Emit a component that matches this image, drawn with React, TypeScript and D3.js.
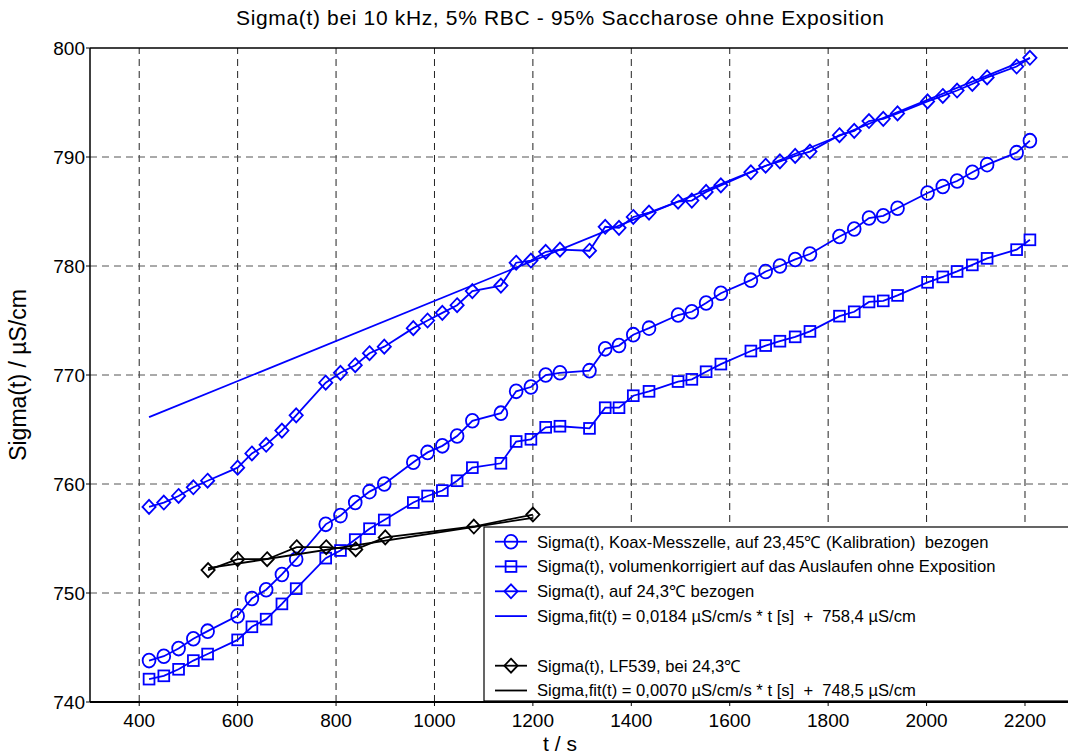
import React, { useRef, useEffect } from 'react'
import * as d3 from 'd3'

// Messzeitpunkte (s), gleich fuer alle drei blauen Reihen
const times = [420, 450, 480, 510, 539, 600, 629, 658, 690, 719, 779, 809, 839, 868, 898, 957, 986, 1016, 1046, 1077,
  1135, 1166, 1196, 1226, 1255, 1315, 1347, 1375, 1404, 1436, 1495, 1523, 1552, 1582, 1643, 1673, 1702, 1733, 1763,
  1823, 1853, 1883, 1912, 1941, 2002, 2033, 2062, 2093, 2123, 2183, 2210]

const koax = [743.8, 744.2, 744.9, 745.8, 746.5, 747.9, 749.5, 750.3, 751.7, 753.1, 756.3, 757.1, 758.3, 759.3, 760.0,
  762.0, 762.9, 763.5, 764.4, 765.8, 766.5, 768.5, 768.9, 770.0, 770.2, 770.4, 772.4, 772.7, 773.7, 774.3, 775.5,
  775.8, 776.6, 777.5, 778.7, 779.5, 780.0, 780.6, 781.1, 782.7, 783.4, 784.4, 784.6, 785.3, 786.7, 787.3, 787.8,
  788.6, 789.3, 790.4, 791.5]

const volumen = [742.1, 742.4, 743.0, 743.8, 744.4, 745.7, 746.9, 747.6, 749.0, 750.4, 753.2, 753.9, 754.9, 755.9,
  756.7, 758.3, 758.9, 759.4, 760.3, 761.5, 761.9, 763.9, 764.1, 765.2, 765.3, 765.1, 767.0, 767.0, 768.1, 768.5,
  769.4, 769.6, 770.3, 771.0, 772.2, 772.7, 773.1, 773.5, 774.0, 775.4, 775.8, 776.7, 776.8, 777.3, 778.5, 779.0,
  779.5, 780.1, 780.7, 781.5, 782.4]

const temp243 = [757.9, 758.3, 758.9, 759.7, 760.3, 761.5, 762.8, 763.6, 764.9, 766.3, 769.3, 770.2, 770.9, 772.0,
  772.6, 774.3, 775.0, 775.7, 776.4, 777.7, 778.2, 780.3, 780.5, 781.3, 781.5, 781.4, 783.6, 783.5, 784.5, 784.9,
  785.9, 786.0, 786.8, 787.4, 788.6, 789.2, 789.6, 790.1, 790.5, 792.0, 792.4, 793.3, 793.5, 794.0, 795.1, 795.6,
  796.1, 796.7, 797.3, 798.3, 799.1]

// LF539 Referenzmessung
const lfTimes = [540, 600, 660, 720, 780, 840, 900, 1080, 1200]
const lfValues = [752.1, 753.1, 753.1, 754.2, 754.2, 754.0, 755.1, 756.1, 757.2]

// lineare Fits (Steigung, Achsenabschnitt)
const fitBlue = [0.0184, 758.4]
const fitBlack = [0.0070, 748.5]

const xTicks = [400, 600, 800, 1000, 1200, 1400, 1600, 1800, 2000, 2200]
const yTicks = [740, 750, 760, 770, 780, 790, 800]

const legendLabels = [
  'Sigma(t), Koax-Messzelle, auf 23,45\u2103 (Kalibration)  bezogen',
  'Sigma(t), volumenkorrigiert auf das Auslaufen ohne Exposition',
  'Sigma(t), auf 24,3\u2103 bezogen',
  'Sigma,fit(t) = 0,0184 \u00b5S/cm/s * t [s]  +  758,4 \u00b5S/cm',
  '',
  'Sigma(t), LF539, bei 24,3\u2103',
  'Sigma,fit(t) = 0,0070 \u00b5S/cm/s * t [s]  +  748,5 \u00b5S/cm',
]

const W = 1068
const H = 756
const FONT = 'Liberation Sans, Arial, sans-serif'
const BLUE = '#0000ff'

function drawMarker(g, kind, cx, cy, color) {
  if (kind === 'circle') {
    g.append('ellipse').attr('cx', cx).attr('cy', cy).attr('rx', 6.4).attr('ry', 6.9)
      .attr('fill', 'none').attr('stroke', color).attr('stroke-width', 1.8)
  } else if (kind === 'square') {
    g.append('rect').attr('x', cx - 5.4).attr('y', cy - 5.4).attr('width', 10.8).attr('height', 10.8)
      .attr('fill', 'none').attr('stroke', color).attr('stroke-width', 1.8)
  } else if (kind === 'diamond') {
    const p = [[cx, cy - 7], [cx + 6.6, cy], [cx, cy + 7], [cx - 6.6, cy]]
    g.append('path').attr('d', 'M' + p.join('L') + 'Z')
      .attr('fill', 'none').attr('stroke', color).attr('stroke-width', 1.8)
  }
}

export default function App() {
  const ref = useRef(null)

  useEffect(() => {
    const svg = d3.select(ref.current)
    svg.selectAll('*').remove()

    const margin = { left: 90, top: 48, bottom: 702 }
    const x = d3.scaleLinear().domain([300, 2300]).range([margin.left, 1074.2])
    const y = d3.scaleLinear().domain([740, 800]).range([margin.bottom, margin.top])

    svg.append('rect').attr('width', W).attr('height', H).attr('fill', '#fff')

    // Gitter
    const grid = svg.append('g')
    xTicks.forEach((t) => {
      grid.append('line').attr('x1', x(t)).attr('x2', x(t)).attr('y1', y(740)).attr('y2', y(800))
        .attr('stroke', '#222').attr('stroke-width', 1).attr('stroke-dasharray', '7,5')
    })
    yTicks.slice(1, -1).forEach((v) => {
      grid.append('line').attr('x1', x(300)).attr('x2', x(2300)).attr('y1', y(v)).attr('y2', y(v))
        .attr('stroke', '#555').attr('stroke-width', 1).attr('stroke-dasharray', '7,5')
    })

    // Achsen
    const ax = svg.append('g').attr('font-family', FONT).attr('font-size', 19).attr('fill', '#000')
    ax.append('line').attr('x1', x(300)).attr('x2', x(300)).attr('y1', y(740)).attr('y2', y(800))
      .attr('stroke', '#000').attr('stroke-width', 1.5)
    ax.append('line').attr('x1', x(300)).attr('x2', x(2300)).attr('y1', y(740)).attr('y2', y(740))
      .attr('stroke', '#000').attr('stroke-width', 2)
    ax.append('line').attr('x1', x(300)).attr('x2', x(2300)).attr('y1', y(800)).attr('y2', y(800))
      .attr('stroke', '#000').attr('stroke-width', 1.5)
    yTicks.forEach((v) => {
      ax.append('line').attr('x1', x(300) - 4).attr('x2', x(300)).attr('y1', y(v)).attr('y2', y(v))
        .attr('stroke', '#000')
      ax.append('text').attr('x', x(300) - 5).attr('y', y(v)).attr('dy', '0.35em')
        .attr('text-anchor', 'end').text(v)
    })
    xTicks.forEach((t) => {
      ax.append('line').attr('x1', x(t)).attr('x2', x(t)).attr('y1', y(740)).attr('y2', y(740) + 4)
        .attr('stroke', '#000')
      ax.append('text').attr('x', x(t)).attr('y', y(740) + 25).attr('text-anchor', 'middle').text(t)
    })

    // blaue Reihen
    const line = d3.line().x((d) => x(d[0])).y((d) => y(d[1]))
    const plot = svg.append('g')
    const blueSeries = [[koax, 'circle'], [volumen, 'square'], [temp243, 'diamond']]
    blueSeries.forEach(([vals, kind]) => {
      const pts = times.map((t, i) => [t, vals[i]])
      plot.append('path').attr('d', line(pts)).attr('fill', 'none').attr('stroke', BLUE).attr('stroke-width', 1.8)
      pts.forEach((p) => drawMarker(plot, kind, x(p[0]), y(p[1]), BLUE))
    })
    const fb = [times[0], times[times.length - 1]].map((t) => [t, fitBlue[0] * t + fitBlue[1]])
    plot.append('path').attr('d', line(fb)).attr('fill', 'none').attr('stroke', BLUE).attr('stroke-width', 1.8)

    // LF539
    const lf = lfTimes.map((t, i) => [t, lfValues[i]])
    plot.append('path').attr('d', line(lf)).attr('fill', 'none').attr('stroke', '#000').attr('stroke-width', 1.8)
    lf.forEach((p) => drawMarker(plot, 'diamond', x(p[0]), y(p[1]), '#000'))
    const fk = [lfTimes[0], lfTimes[lfTimes.length - 1]].map((t) => [t, fitBlack[0] * t + fitBlack[1]])
    plot.append('path').attr('d', line(fk)).attr('fill', 'none').attr('stroke', '#000').attr('stroke-width', 1.8)

    // Legende
    const lg = svg.append('g').attr('font-family', FONT).attr('font-size', 16.6)
    lg.append('rect').attr('x', 484).attr('y', 527).attr('width', 600).attr('height', 174)
      .attr('fill', '#fff').attr('stroke', '#000').attr('stroke-width', 1.2)
    const legendStyle = [['circle', BLUE], ['square', BLUE], ['diamond', BLUE], [null, BLUE], [null, 'none'],
      ['diamond', '#000'], [null, '#000']]
    legendLabels.forEach((label, i) => {
      const ly = 541.7 + i * 24.8
      const [kind, color] = legendStyle[i]
      if (color !== 'none') {
        lg.append('line').attr('x1', 495).attr('x2', 527).attr('y1', ly).attr('y2', ly)
          .attr('stroke', color).attr('stroke-width', 1.8)
        if (kind) drawMarker(lg, kind, 511, ly, color)
      }
      lg.append('text').attr('x', 537).attr('y', ly).attr('dy', '0.35em')
        .style('white-space', 'pre').text(label)
    })

    // Titel und Achsenbeschriftung
    svg.append('text').attr('x', 560).attr('y', 25).attr('text-anchor', 'middle')
      .attr('font-family', FONT).attr('font-size', 21).attr('textLength', 648).attr('lengthAdjust', 'spacing')
      .text('Sigma(t) bei 10 kHz, 5% RBC - 95% Saccharose ohne Exposition')
    svg.append('text').attr('x', 560).attr('y', 751).attr('text-anchor', 'middle')
      .attr('font-family', FONT).attr('font-size', 21).text('t / s')
    svg.append('text').attr('transform', 'translate(26,375) rotate(-90)').attr('text-anchor', 'middle')
      .attr('font-family', FONT).attr('font-size', 23).text('Sigma(t) / \u00b5S/cm')
  }, [])

  return (
    <svg ref={ref} width={W} height={H} style={{ position: 'absolute', left: 0, top: 0 }} />
  )
}
